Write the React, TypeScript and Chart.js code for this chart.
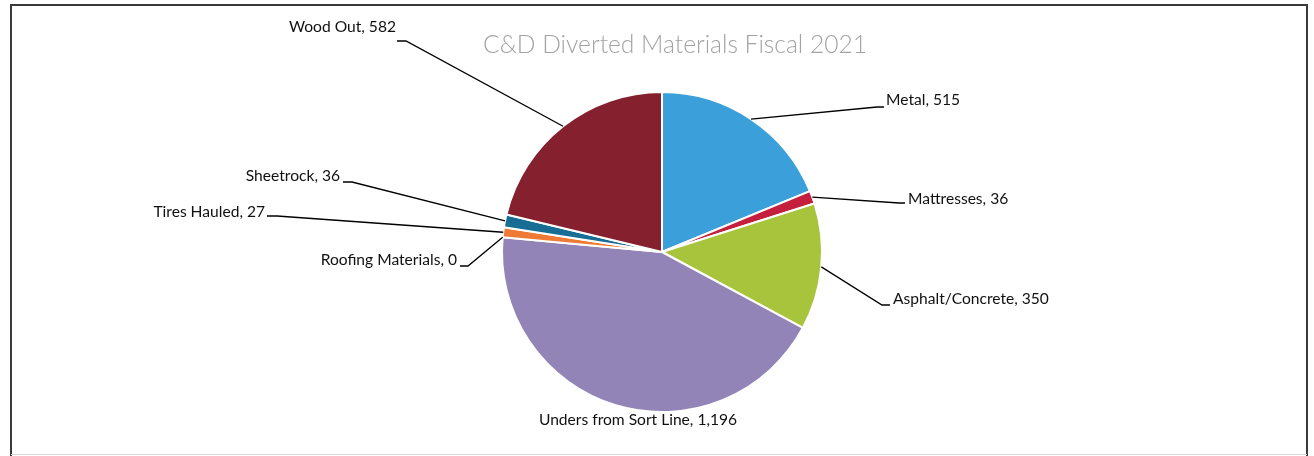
import React, { useEffect, useRef } from "react";
import { Chart, registerables } from "chart.js";

Chart.register(...registerables);

const TITLE = "C&D Diverted Materials Fiscal 2021";
const categories = [
  "Metal",
  "Mattresses",
  "Asphalt/Concrete",
  "Unders from Sort Line",
  "Roofing Materials",
  "Tires Hauled",
  "Sheetrock",
  "Wood Out",
];
const values = [515, 36, 350, 1196, 0, 27, 36, 582];
const colors = [
  "#3b9fd9",
  "#c41f3d",
  "#a7c43c",
  "#9284b6",
  "#8a8a8a",
  "#ef7a35",
  "#176d93",
  "#85202f",
];

// label layout: offsets relative to pie centre (text anchor, elbow, attach)
type LabelLayout = {
  tx: number;
  ty: number;
  align: "left" | "right" | "center";
  line: boolean;
  ex?: number;
  ey?: number;
  ax?: number;
  ay?: number;
};
const labelLayout: LabelLayout[] = [
  { tx: 224, ty: -152, align: "left", line: true, ex: 215, ey: -145, ax: 222, ay: -145 },
  { tx: 246, ty: -53, align: "left", line: true, ex: 237, ey: -49, ax: 243, ay: -49 },
  { tx: 231, ty: 47, align: "left", line: true, ex: 220, ey: 53, ax: 228, ay: 53 },
  { tx: -24, ty: 168, align: "center", line: false },
  { tx: -205, ty: 8, align: "right", line: true, ex: -194, ey: 14, ax: -202, ay: 14 },
  { tx: -397, ty: -40, align: "right", line: true, ex: -385, ey: -36, ax: -395, ay: -36 },
  { tx: -322, ty: -76, align: "right", line: true, ex: -310, ey: -70, ax: -319, ay: -70 },
  { tx: -266, ty: -225, align: "right", line: true, ex: -256, ey: -211, ax: -265, ay: -211 },
];

const fmt = (v: number) => v.toLocaleString("en-US");

const decorPlugin = {
  id: "decor",
  afterDraw(chart: any) {
    const ctx = chart.ctx as CanvasRenderingContext2D;
    const H = chart.height;
    ctx.save();
    // frame
    ctx.strokeStyle = "#3a3a3a";
    ctx.lineWidth = 2;
    ctx.beginPath();
    ctx.moveTo(11, H);
    ctx.lineTo(11, 5);
    ctx.lineTo(1307, 5);
    ctx.lineTo(1307, H);
    ctx.stroke();
    ctx.strokeStyle = "#d8d8d8";
    ctx.lineWidth = 1;
    ctx.beginPath();
    ctx.moveTo(11, 454.5);
    ctx.lineTo(1307, 454.5);
    ctx.stroke();

    // title
    ctx.fillStyle = "#a3a3a3";
    ctx.font = "300 24.6px Lato";
    ctx.textAlign = "center";
    ctx.textBaseline = "middle";
    ctx.fillText(TITLE, 675, 45);

    // labels
    const meta = chart.getDatasetMeta(0);
    ctx.font = "15.6px Lato";
    ctx.fillStyle = "#111";
    ctx.strokeStyle = "#000";
    ctx.lineWidth = 1.3;
    meta.data.forEach((arc: any, i: number) => {
      const p = arc.getProps(["x", "y", "startAngle", "endAngle", "outerRadius"], true);
      const cx = p.x;
      const cy = p.y;
      const mid = (p.startAngle + p.endAngle) / 2;
      const L = labelLayout[i];
      const text = `${categories[i]}, ${fmt(values[i])}`;
      ctx.textAlign = L.align;
      ctx.fillText(text, cx + L.tx, cy + L.ty);
      if (L.line) {
        const r = p.outerRadius;
        const px = cx + Math.cos(mid) * r;
        const py = cy + Math.sin(mid) * r;
        ctx.beginPath();
        ctx.moveTo(px, py);
        ctx.lineTo(cx + (L.ex as number), cy + (L.ey as number));
        ctx.lineTo(cx + (L.ax as number), cy + (L.ay as number));
        ctx.stroke();
      }
    });
    ctx.restore();
  },
};

export default function App() {
  const ref = useRef<HTMLCanvasElement | null>(null);
  useEffect(() => {
    if (!ref.current) return;
    const chart = new Chart(ref.current, {
      type: "pie",
      data: {
        labels: categories,
        datasets: [
          {
            data: values,
            backgroundColor: colors,
            borderColor: "#ffffff",
            borderWidth: 2,
          },
        ],
      },
      options: {
        animation: false,
        responsive: false,
        maintainAspectRatio: false,
        layout: { padding: { left: 10, right: 0, top: 91, bottom: 43 } },
        plugins: {
          legend: { display: false },
          title: { display: false },
          tooltip: { enabled: false },
        },
      },
      plugins: [decorPlugin],
    });
    return () => chart.destroy();
  }, []);
  return (
    <div style={{ position: "fixed", left: 0, top: 0, width: 1314, height: 456, background: "#fff" }}>
      <canvas ref={ref} width={1314} height={456} style={{ display: "block" }} />
    </div>
  );
}
